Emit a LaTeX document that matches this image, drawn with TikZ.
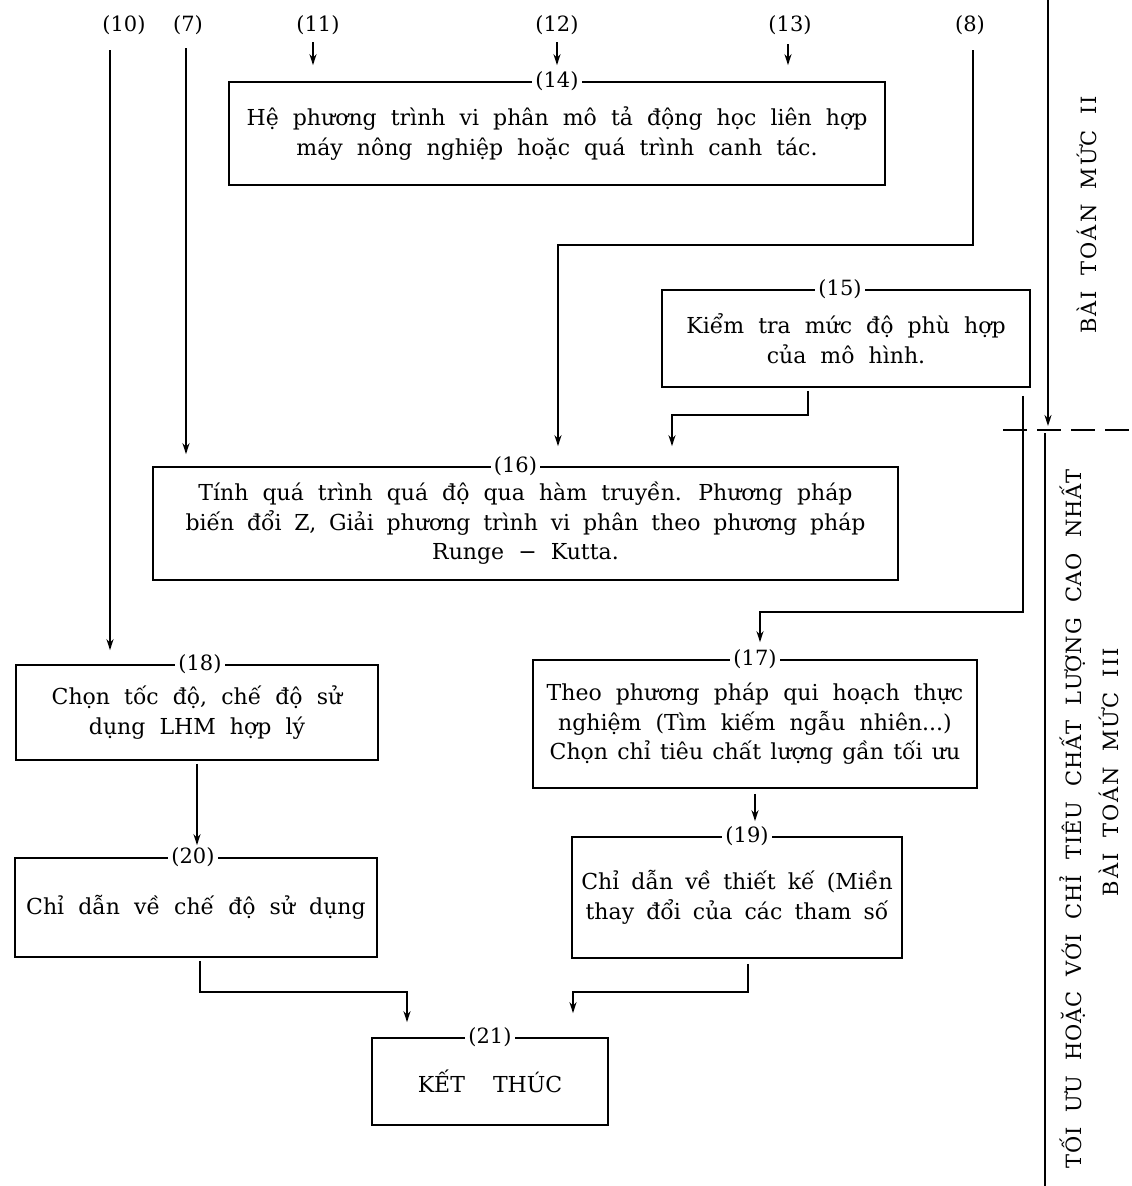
\documentclass[tikz,border=0pt]{standalone}
\usepackage{fontspec}
\setmainfont{DejaVu Serif}
\newfontfamily\sidefamA[LetterSpace=4]{DejaVu Serif}
\newfontfamily\sidefamB[LetterSpace=10]{DejaVu Serif}
\usetikzlibrary{arrows.meta}
\newcommand{\boxfont}{\fontsize{22}{29.5}\selectfont\spaceskip=0.64em\relax}
\newcommand{\boxfontnarrow}{\fontsize{22}{29.5}\selectfont\spaceskip=0.55em\relax}
\newcommand{\numfont}{\fontsize{21}{24}\selectfont}
\newcommand{\sidefontA}{\sidefamA\fontsize{21}{30}\selectfont\spaceskip=0.72em\relax}
\newcommand{\sidefontB}{\sidefamB\fontsize{21}{30}\selectfont\spaceskip=0.72em\relax}
\tikzset{
  box/.style={draw, line width=1.7pt, inner sep=0pt, align=center, font=\boxfont},
  num/.style={fill=white, inner xsep=3pt, inner ysep=1pt, font=\numfont},
  toplabel/.style={inner sep=1pt, font=\numfont},
  arr/.style={line width=1.7pt, -{Stealth[length=11pt,width=7pt]}},
  ln/.style={line width=1.7pt},
  side/.style={rotate=90, inner sep=0pt, align=center},
}
\begin{document}
\begin{tikzpicture}[x=1pt, y=-1pt]
\fill[white] (0,0) rectangle (1132,1186);
\useasboundingbox (0,0) rectangle (1132,1186);

% boxes
\node[box, minimum width=656pt, minimum height=103pt] (b14) at (557,133.5)
  {Hệ phương trình vi phân mô tả động học liên hợp\\máy nông nghiệp hoặc quá trình canh tác.};
\node[box, minimum width=368pt, minimum height=97pt] (b15) at (846,338.5)
  {Kiểm tra mức độ phù hợp\\của mô hình.};
\node[box, minimum width=745pt, minimum height=113pt] (b16) at (525.5,523.5)
  {Tính quá trình quá độ qua hàm truyền. Phương pháp\\{\spaceskip=0.58em\relax biến đổi Z, Giải phương trình vi phân theo phương pháp}\\Runge − Kutta.};
\node[box, minimum width=444pt, minimum height=128pt] (b17) at (755,724)
  {Theo phương pháp qui hoạch thực\\nghiệm (Tìm kiếm ngẫu nhiên...)\\{\spaceskip=0.42em\relax Chọn chỉ tiêu chất lượng gần tối ưu}};
\node[box, minimum width=362pt, minimum height=95pt] (b18) at (197,712.5)
  {Chọn tốc độ, chế độ sử\\dụng LHM hợp lý};
\node[box, minimum width=330pt, minimum height=121pt, font=\boxfontnarrow] (b19) at (737,897.5)
  {Chỉ dẫn về thiết kế (Miền\\thay đổi của các tham số};
\node[box, minimum width=362pt, minimum height=99pt] (b20) at (196,907.5)
  {Chỉ dẫn về chế độ sử dụng};
\node[box, minimum width=236pt, minimum height=87pt] (b21) at (490,1081.5)
  {KẾT\hspace{14pt} THÚC};

% number labels on box tops
\node[num] (n14) at (b14.north) {(14)};
\node[num] (n15) at ([xshift=-6pt]b15.north) {(15)};
\node[num] (n16) at ([xshift=-10pt]b16.north) {(16)};
\node[num] (n17) at (b17.north) {(17)};
\node[num] (n18) at ([xshift=3pt]b18.north) {(18)};
\node[num] (n19) at ([xshift=10pt]b19.north) {(19)};
\node[num] (n20) at ([xshift=-3pt]b20.north) {(20)};
\node[num] (n21) at (b21.north) {(21)};

% top labels
\node[toplabel] (t10) at (124,25) {(10)};
\node[toplabel] (t7) at (188,25) {(7)};
\node[toplabel] (t11) at (318,25) {(11)};
\node[toplabel] (t12) at (557,25) {(12)};
\node[toplabel] (t13) at (790,25) {(13)};
\node[toplabel] (t8) at (970,25) {(8)};

% connector points
\coordinate (s10) at (110,50);
\coordinate (s7) at (186,48);
\coordinate (s11) at (313,42);
\coordinate (s12) at (557,42);
\coordinate (s13) at (788,44);
\coordinate (s8) at (973,50);
\coordinate (k8a) at (973,245);
\coordinate (k8b) at (558,245);
\coordinate (k15a) at (808,415);
\coordinate (k15b) at (672,415);
\coordinate (k17a) at (1023,612);
\coordinate (k17b) at (760,612);
\coordinate (k20a) at (200,992);
\coordinate (k20b) at (407,992);
\coordinate (k19a) at (748,992);
\coordinate (k19b) at (573,992);

% connectors
\draw[arr, shorten >=14pt] (s10) -- (s10 |- b18.north);
\draw[arr, shorten >=12pt] (s7) -- (s7 |- b16.north);
\draw[arr, shorten >=16pt] (s11) -- (s11 |- b14.north);
\draw[arr, shorten >=16pt] (s12) -- (s12 |- b14.north);
\draw[arr, shorten >=16pt] (s13) -- (s13 |- b14.north);
\draw[arr, shorten >=20pt] (s8) -- (k8a) -- (k8b) -- (k8b |- b16.north);
\draw[arr, shorten <=3pt, shorten >=20pt] (k15a |- b15.south) -- (k15a) -- (k15b) -- (k15b |- b16.north);
\draw[arr, shorten <=8pt, shorten >=17pt] (k17a |- b15.south) -- (k17a) -- (k17b) -- (k17b |- b17.north);
\draw[arr, shorten <=5pt, shorten >=15pt] (b17.south) -- (b17.south |- b19.north);
\draw[arr, shorten <=3pt, shorten >=12pt] (b18.south) -- (b18.south |- b20.north);
\draw[arr, shorten <=3pt, shorten >=15pt] (k20a |- b20.south) -- (k20a) -- (k20b) -- (k20b |- b21.north);
\draw[arr, shorten <=5pt, shorten >=24pt] (k19a |- b19.south) -- (k19a) -- (k19b) -- (k19b |- b21.north);

% right-hand divider
\coordinate (d0) at (1048,0);
\coordinate (d1) at (1048,426);
\coordinate (e0) at (1003,430);
\coordinate (e1) at (1132,430);
\coordinate (f0) at (1045,433);
\coordinate (f1) at (1045,1186);
\draw[arr] (d0) -- (d1);
\draw[ln, dash pattern=on 24pt off 10pt] (e0) -- (e1);
\draw[ln] (f0) -- (f1);

\node[side, font=\sidefontB] (r2) at (1087,215) {BÀI TOÁN MỨC II};
\node[side, font=\sidefontA] (r3a) at (1073,819) {TỐI ƯU HOẶC VỚI CHỈ TIÊU CHẤT LƯỢNG CAO NHẤT};
\node[side, font=\sidefontB] (r3b) at (1109,772) {BÀI TOÁN MỨC III};
\end{tikzpicture}
\end{document}
